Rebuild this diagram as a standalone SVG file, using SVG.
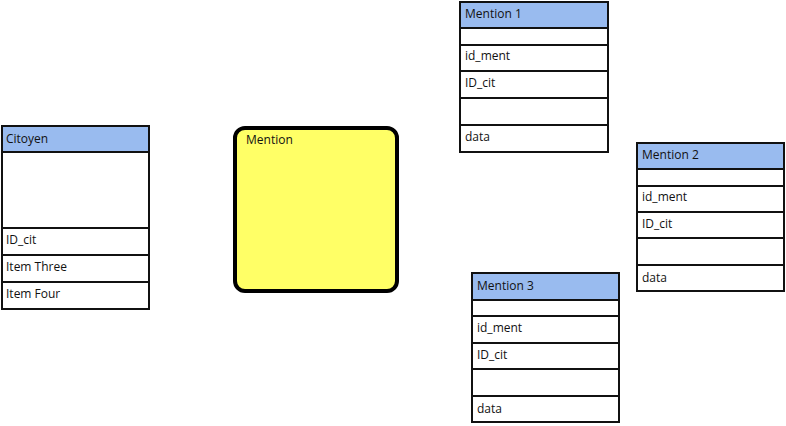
<svg xmlns="http://www.w3.org/2000/svg" width="786" height="426" viewBox="0 0 786 426">
<style>
.hd{fill:#99bbef;stroke:#111;stroke-width:2}
.rw{fill:#fff;stroke:#111;stroke-width:2}
.t{font-family:"Open Sans","Liberation Sans",sans-serif;font-size:12px;fill:#111}
.note{fill:#ffff66;stroke:#000;stroke-width:4}
</style>
<rect width="786" height="426" fill="#fff"/>
<g id="citoyen">
<rect class="hd" x="2" y="126" width="147" height="26"/>
<rect class="rw" x="2" y="152" width="147" height="76"/>
<rect class="rw" x="2" y="228" width="147" height="27"/>
<rect class="rw" x="2" y="255" width="147" height="27"/>
<rect class="rw" x="2" y="282" width="147" height="27"/>
<text class="t" x="6" y="143">Citoyen</text>
<text class="t" x="6" y="244">ID_cit</text>
<text class="t" x="6" y="271">Item Three</text>
<text class="t" x="6" y="298">Item Four</text>
</g>
<g id="mention">
<rect class="note" x="235" y="128" width="162" height="163" rx="10"/>
<text class="t" x="246" y="144">Mention</text>
</g>
<g id="mention1">
<rect class="hd" x="460" y="2" width="148" height="26"/>
<rect class="rw" x="460" y="28" width="148" height="17"/>
<rect class="rw" x="460" y="45" width="148" height="26"/>
<rect class="rw" x="460" y="71" width="148" height="27"/>
<rect class="rw" x="460" y="98" width="148" height="27"/>
<rect class="rw" x="460" y="125" width="148" height="27"/>
<text class="t" x="465" y="18">Mention 1</text>
<text class="t" x="465" y="60">id_ment</text>
<text class="t" x="465" y="87">ID_cit</text>
<text class="t" x="465" y="141">data</text>
</g>
<g id="mention2">
<rect class="hd" x="637" y="143" width="147" height="26"/>
<rect class="rw" x="637" y="169" width="147" height="17"/>
<rect class="rw" x="637" y="186" width="147" height="26"/>
<rect class="rw" x="637" y="212" width="147" height="26"/>
<rect class="rw" x="637" y="238" width="147" height="27"/>
<rect class="rw" x="637" y="265" width="147" height="26"/>
<text class="t" x="642" y="159">Mention 2</text>
<text class="t" x="642" y="201">id_ment</text>
<text class="t" x="642" y="228">ID_cit</text>
<text class="t" x="642" y="282">data</text>
</g>
<g id="mention3">
<rect class="hd" x="472" y="273" width="147" height="27"/>
<rect class="rw" x="472" y="300" width="147" height="16"/>
<rect class="rw" x="472" y="316" width="147" height="27"/>
<rect class="rw" x="472" y="343" width="147" height="26"/>
<rect class="rw" x="472" y="369" width="147" height="27"/>
<rect class="rw" x="472" y="396" width="147" height="26"/>
<text class="t" x="477" y="290">Mention 3</text>
<text class="t" x="477" y="332">id_ment</text>
<text class="t" x="477" y="359">ID_cit</text>
<text class="t" x="477" y="413">data</text>
</g>
<g id="connectors"/>
</svg>
